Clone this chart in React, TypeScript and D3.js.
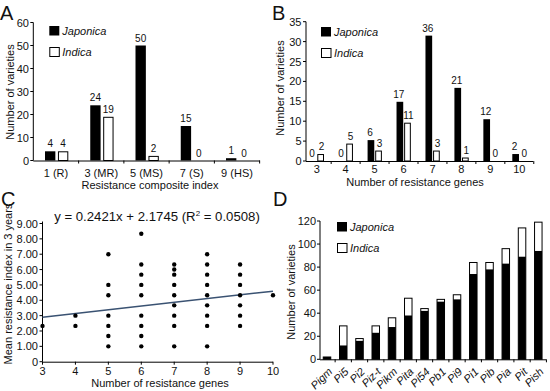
import React from "react";
import * as d3 from "d3";

// ---------- Panel A ----------
const aCategories = ["1 (R)", "3 (MR)", "5 (MS)", "7 (S)", "9 (HS)"];
const aJaponica = [4, 24, 50, 15, 1];
const aIndica = [4, 19, 2, 0, 0];
const aTicks = [0, 10, 20, 30, 40, 50, 60];

// ---------- Panel B ----------
const bCategories = ["3", "4", "5", "6", "7", "8", "9", "10"];
const bJaponica = [0, 0, 6, 17, 36, 21, 12, 2];
const bIndica = [2, 5, 3, 11, 3, 1, 0, 0];
const bTicks = [0, 5, 10, 15, 20, 25, 30, 35];
const bBarDomainMax = 40; // bars in the reference are drawn on a 0–40 scale under the 0–35 axis

// ---------- Panel C ----------
const cGeneCounts = [3, 4, 5, 6, 7, 8, 9, 10];
const cIndexValues = [
  [2.33],
  [3, 2.33],
  [7, 5, 4.33, 3, 2.33, 1.67, 1],
  [8.33, 6.33, 5.67, 5, 4.33, 3, 2.33, 1.67, 1],
  [6.33, 6, 5.67, 5, 4.33, 3.67, 3, 2.33, 1],
  [7, 6.33, 5.67, 5, 4.33, 3.67, 3, 2.33, 1],
  [6.33, 5.67, 5, 4.33, 3.67, 3, 2.33],
  [4.33],
];
const cTicksY = [0, 1, 2, 3, 4, 5, 6, 7, 8, 9];
const cTicksX = [3, 4, 5, 6, 7, 8, 9, 10];
const cSlope = 0.2421;
const cIntercept = 2.1745;

// ---------- Panel D ----------
const dGenes = ["Pigm", "Pi5", "Pi2", "Piz-t", "Pikm", "Pita", "Pi54", "Pb1", "Pi9", "Pi1", "Pib", "Pia", "Pit", "Pish"];
const dJaponica = [2, 12, 16, 23, 28, 38, 42, 50, 52, 74, 78, 83, 89, 94];
const dIndica = [0, 17, 2, 6, 8, 15, 2, 2, 4, 10, 6, 13, 25, 25];
const dTicks = [0, 20, 40, 60, 80, 100, 120];

const series = ["Japonica", "Indica"];
const FONT = "'Liberation Sans', Arial, Helvetica, sans-serif";
const TXT = "#111";

function Legend({ x, y }: { x: number; y: number }) {
  return (
    <g>
      <rect x={x} y={y} width={10} height={9.5} fill="#000" />
      <text x={x + 13} y={y + 9} fontSize={11} fontStyle="italic" fill={TXT}>Japonica</text>
      <rect x={x + 0.5} y={y + 21.5} width={9.5} height={9} fill="#fff" stroke="#000" strokeWidth={1} />
      <text x={x + 13} y={y + 30} fontSize={11} fontStyle="italic" fill={TXT}>Indica</text>
    </g>
  );
}

export default function App() {
  // Panel A scales
  const ax0 = d3.scalePoint<string>().domain(aCategories).range([56, 237]);
  const ax1 = d3.scaleBand<string>().domain(series).range([-11, 12.3]).paddingInner(0.2);
  const ay = d3.scaleLinear().domain([0, 60]).range([160.5, 22.5]);
  const aStep = ax0.step();

  // Panel B scales
  const bx0 = d3.scalePoint<string>().domain(bCategories).range([316.7, 519.3]);
  const bx1 = d3.scaleBand<string>().domain(series).range([-7, 7.3]).paddingInner(0.12);
  const byBar = d3.scaleLinear().domain([0, bBarDomainMax]).range([161, 21.7]);
  const byAxis = d3.scaleLinear().domain([0, 35]).range([161, 21.7]);
  const bStep = bx0.step();

  // Panel C scales
  const cx = d3.scaleLinear().domain([3, 10]).range([42.5, 273]);
  const cy = d3.scaleLinear().domain([0, 9]).range([361.7, 223.5]);
  const regLine = d3.line<number>().x((g) => cx(g)).y((g) => cy(cSlope * g + cIntercept));

  // Panel D scales
  const dx = d3.scalePoint<string>().domain(dGenes).range([327, 538.3]);
  const dy = d3.scaleLinear().domain([0, 120]).range([359.3, 221]);
  const dStep = dx.step();
  const dBarW = 7.5;

  const aBase = ay(0);
  const bBase = byBar(0);
  const dBase = dy(0);

  return (
    <svg width={550} height={391} style={{ position: "absolute", left: 0, top: 0, background: "#fff" }} fontFamily={FONT}>
      <rect width={550} height={391} fill="#fff" />

      {/* ================= Panel A ================= */}
      <text x={0} y={20} fontSize={20} fill={TXT}>A</text>
      <line x1={33.3} x2={33.3} y1={aBase} y2={ay(60)} stroke="#000" />
      <line x1={33.3} x2={260} y1={aBase + 0.5} y2={aBase + 0.5} stroke="#000" />
      {aTicks.map((t) => (
        <g key={"at" + t}>
          <line x1={30.3} x2={33.3} y1={ay(t)} y2={ay(t)} stroke="#000" />
          <text x={29} y={ay(t) + 4} fontSize={11} textAnchor="end" fill={TXT}>{t}</text>
        </g>
      ))}
      {aCategories.map((c, i) => (
        <g key={"ab" + c}>
          <line x1={ax0(c)! + aStep / 2} x2={ax0(c)! + aStep / 2} y1={aBase} y2={aBase + 3} stroke="#000" />
          <rect x={ax0(c)! + ax1("Japonica")!} y={ay(aJaponica[i])} width={ax1.bandwidth()} height={aBase - ay(aJaponica[i])} fill="#000" />
          {aIndica[i] > 0 && (
            <rect x={ax0(c)! + ax1("Indica")! + 0.5} y={ay(aIndica[i]) + 0.5} width={ax1.bandwidth() - 1} height={aBase - ay(aIndica[i]) - 0.5} fill="#fff" stroke="#000" />
          )}
          <text x={ax0(c)! + ax1("Japonica")! + ax1.bandwidth() / 2} y={ay(aJaponica[i]) - 4} fontSize={10} textAnchor="middle" fill={TXT}>{aJaponica[i]}</text>
          <text x={ax0(c)! + ax1("Indica")! + ax1.bandwidth() / 2} y={ay(aIndica[i]) - 4} fontSize={10} textAnchor="middle" fill={TXT}>{aIndica[i]}</text>
          <text x={ax0(c)!} y={177} fontSize={11} textAnchor="middle" fill={TXT}>{c}</text>
        </g>
      ))}
      <text x={150} y={189} fontSize={11} textAnchor="middle" fill={TXT}>Resistance composite index</text>
      <text transform={`translate(14,92) rotate(-90)`} fontSize={11} textAnchor="middle" fill={TXT}>Number of varieties</text>
      <Legend x={49.3} y={26} />

      {/* ================= Panel B ================= */}
      <text x={272} y={20} fontSize={20} fill={TXT}>B</text>
      <line x1={306} x2={306} y1={bBase} y2={byAxis(35)} stroke="#000" />
      <line x1={306} x2={533} y1={bBase + 0.5} y2={bBase + 0.5} stroke="#000" />
      {bTicks.map((t) => (
        <g key={"bt" + t}>
          <line x1={303} x2={306} y1={byAxis(t)} y2={byAxis(t)} stroke="#000" />
          <text x={301.5} y={byAxis(t) + 4} fontSize={11} textAnchor="end" fill={TXT}>{t}</text>
        </g>
      ))}
      {bCategories.map((c, i) => (
        <g key={"bb" + c}>
          <line x1={bx0(c)! + bStep / 2} x2={bx0(c)! + bStep / 2} y1={bBase} y2={bBase + 3} stroke="#000" />
          {bJaponica[i] > 0 && (
            <rect x={bx0(c)! + bx1("Japonica")!} y={byBar(bJaponica[i])} width={bx1.bandwidth()} height={bBase - byBar(bJaponica[i])} fill="#000" />
          )}
          {bIndica[i] > 0 && (
            <rect x={bx0(c)! + bx1("Indica")! + 0.5} y={byBar(bIndica[i]) + 0.5} width={bx1.bandwidth() - 1} height={bBase - byBar(bIndica[i]) - 0.5} fill="#fff" stroke="#000" />
          )}
          <text x={bx0(c)! + bx1("Japonica")! + bx1.bandwidth() / 2 - 1} y={byBar(bJaponica[i]) - 4} fontSize={10} textAnchor="middle" fill={TXT}>{bJaponica[i]}</text>
          <text x={bx0(c)! + bx1("Indica")! + bx1.bandwidth() / 2 + 1} y={byBar(bIndica[i]) - 4} fontSize={10} textAnchor="middle" fill={TXT}>{bIndica[i]}</text>
          <text x={bx0(c)!} y={173} fontSize={11} textAnchor="middle" fill={TXT}>{c}</text>
        </g>
      ))}
      <text x={415} y={185.5} fontSize={11} textAnchor="middle" fill={TXT}>Number of resistance genes</text>
      <text transform={`translate(284,88) rotate(-90)`} fontSize={11} textAnchor="middle" fill={TXT}>Number of varieties</text>
      <Legend x={321} y={27} />

      {/* ================= Panel C ================= */}
      <text x={1} y={206} fontSize={20} fill={TXT}>C</text>
      <line x1={cx(3)} x2={cx(3)} y1={cy(0)} y2={cy(9) - 2} stroke="#000" />
      <line x1={cx(3)} x2={273} y1={cy(0) + 0.5} y2={cy(0) + 0.5} stroke="#000" />
      {cTicksY.map((t) => (
        <g key={"cty" + t}>
          <line x1={cx(3) - 3} x2={cx(3)} y1={cy(t)} y2={cy(t)} stroke="#000" />
          <text x={38} y={cy(t) + 4} fontSize={11} textAnchor="end" fill={TXT}>{t === 0 ? "0" : t.toFixed(2)}</text>
        </g>
      ))}
      {cTicksX.map((t) => (
        <g key={"ctx" + t}>
          <line x1={cx(t)} x2={cx(t)} y1={cy(0)} y2={cy(0) + 3} stroke="#000" />
          <text x={cx(t)} y={374.5} fontSize={11} textAnchor="middle" fill={TXT}>{t}</text>
        </g>
      ))}
      <path d={regLine([3, 10]) || ""} stroke="#3a5272" strokeWidth={1.5} fill="none" />
      {cGeneCounts.map((g, i) =>
        cIndexValues[i].map((v, j) => (
          <circle key={`cp${g}-${j}`} cx={cx(g)} cy={cy(v)} r={2.2} fill="#000" />
        ))
      )}
      <text x={157} y={221} fontSize={13.2} textAnchor="middle" fill={TXT}>
        y = 0.2421x + 2.1745 (R<tspan fontSize={8} dy={-5}>2</tspan><tspan dy={5}> = 0.0508)</tspan>
      </text>
      <text x={160} y={387} fontSize={11} textAnchor="middle" fill={TXT}>Number of resistance genes</text>
      <text transform={`translate(12,284) rotate(-90)`} fontSize={11} textAnchor="middle" fill={TXT}>Mean resistance index in 3 years</text>

      {/* ================= Panel D ================= */}
      <text x={273} y={206} fontSize={20} fill={TXT}>D</text>
      <line x1={320} x2={320} y1={dBase} y2={dy(120)} stroke="#000" />
      <line x1={320} x2={546} y1={dBase + 0.5} y2={dBase + 0.5} stroke="#000" />
      {dTicks.map((t) => (
        <g key={"dt" + t}>
          <line x1={317} x2={320} y1={dy(t)} y2={dy(t)} stroke="#000" />
          <text x={316} y={dy(t) + 4} fontSize={11} textAnchor="end" fill={TXT}>{t}</text>
        </g>
      ))}
      {dGenes.map((g, i) => {
        const x = dx(g)! - dBarW / 2;
        const total = dJaponica[i] + dIndica[i];
        return (
          <g key={"db" + g}>
            <line x1={dx(g)! + dStep / 2} x2={dx(g)! + dStep / 2} y1={dBase} y2={dBase + 3} stroke="#000" />
            <rect x={x} y={dy(total)} width={dBarW} height={dBase - dy(total)} fill="#fff" stroke="#000" strokeWidth={1} />
            <rect x={x} y={dy(dJaponica[i])} width={dBarW} height={dBase - dy(dJaponica[i])} fill="#000" />
            <text transform={`translate(${dx(g)! + 6},${dBase + 13}) rotate(-45)`} fontSize={11} fontStyle="italic" textAnchor="end" fill={TXT}>{g}</text>
          </g>
        );
      })}
      <text transform={`translate(295,292) rotate(-90)`} fontSize={11} textAnchor="middle" fill={TXT}>Number of varieties</text>
      <Legend x={337} y={222} />
    </svg>
  );
}
